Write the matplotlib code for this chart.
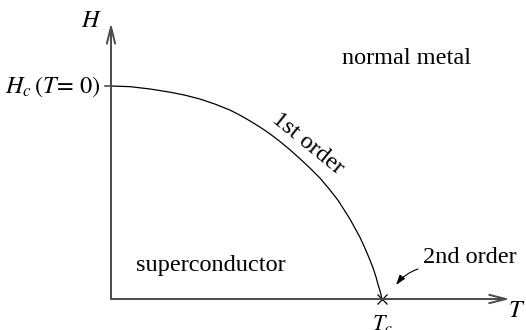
import matplotlib.pyplot as plt

plt.rcParams['font.family'] = 'Liberation Serif'
plt.rcParams['mathtext.fontset'] = 'stix'

# critical field curve H/Hc against T/Tc
T = [0, 0.070, 0.144, 0.218, 0.273, 0.328, 0.384, 0.439, 0.476, 0.513, 0.550,
     0.587, 0.624, 0.661, 0.697, 0.734, 0.771, 0.808, 0.838, 0.863, 0.882,
     0.900, 0.919, 0.937, 0.952, 0.967, 0.978, 0.985, 0.993, 1.0]
H = [1.0, 0.997, 0.986, 0.971, 0.957, 0.939, 0.915, 0.887, 0.863, 0.836, 0.807,
     0.775, 0.739, 0.700, 0.659, 0.615, 0.568, 0.512, 0.463, 0.413, 0.375,
     0.333, 0.289, 0.239, 0.194, 0.146, 0.103, 0.070, 0.037, 0.0]

fig = plt.figure(figsize=(5.26, 3.30), dpi=100)
ax = fig.add_axes([0, 0, 1, 1])
ax.set_xlim(-0.4096, 1.5314)
ax.set_ylim(-0.1455, 1.4038)
ax.axis('off')

axis_col = '#4a4a4a'
arrow = dict(arrowstyle='->,head_length=1.2,head_width=0.3', color=axis_col,
             lw=1.4, shrinkA=0, shrinkB=0, mutation_scale=10)
ax.annotate('', xy=(0, 1.296), xytext=(0, 0), arrowprops=arrow)
ax.annotate('', xy=(1.472, 0), xytext=(0, 0), arrowprops=arrow)
ax.plot([-0.022, 0], [H[0], H[0]], color=axis_col, lw=1.2)

ax.plot(T, H, color='black', lw=0.9)
ax.plot([T[-1]], [H[-1]], marker='x', color='black', ms=7, mew=0.9)

fs = 17.5
ax.text(-0.074, 1.305, '$H$', fontsize=fs, ha='center', va='center')
ax.text(-0.037, 0.995, r'$H_c\,(T\!=\,0)$', fontsize=fs, ha='right', va='center')
ax.text(1.496, -0.058, '$T$', fontsize=fs, ha='center', va='center')
ax.text(1.0, -0.064, '$T_c$', fontsize=16, ha='center', va='top')

ax.text(1.089, 1.103, 'normal metal', fontsize=fs, ha='center', va='baseline')
ax.text(0.369, 0.131, 'superconductor', fontsize=fs, ha='center', va='baseline')
ax.text(0.727, 0.728, '1st order', fontsize=fs, ha='center', va='center',
        rotation=-39, rotation_mode='anchor')
ax.text(1.325, 0.169, '2nd order', fontsize=fs, ha='center', va='baseline')

ax.annotate('', xy=(1.052, 0.066), xytext=(1.133, 0.141),
            arrowprops=dict(arrowstyle='-|>,head_length=0.6,head_width=0.2',
                            color='black', lw=0.8, shrinkA=0, shrinkB=0,
                            connectionstyle='arc3,rad=0.15'))

fig.savefig('out.png', dpi=100)
